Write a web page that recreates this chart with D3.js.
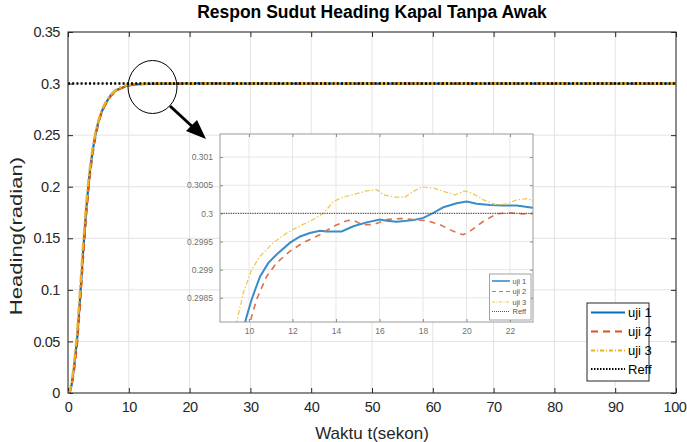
<!DOCTYPE html>
<html><head><meta charset="utf-8">
<script src="https://cdn.jsdelivr.net/npm/d3@7"></script>
<style>body{margin:0;background:#fff}svg{display:block;font-family:"Liberation Sans",Arial,sans-serif}</style>
</head><body><svg id="c" width="687" height="442"></svg>
<script>
// ---------- DATA ----------
const xTicks = [0,10,20,30,40,50,60,70,80,90,100];
const yTicks = [0,0.05,0.1,0.15,0.2,0.25,0.3,0.35];
const yTickLabels = ["0","0.05","0.1","0.15","0.2","0.25","0.3","0.35"];
const insetXTicks = [10,12,14,16,18,20,22];
const insetYTicks = [0.2985,0.299,0.2995,0.3,0.3005,0.301];
const insetYTickLabels = ["0.2985","0.299","0.2995","0.3","0.3005","0.301"];
const seriesNames = ["uji 1","uji 2","uji 3","Reff"];
const reffValue = 0.3;

const uji1T = [0,0.3,0.6,1.0,1.5,2.0,2.5,3.0,3.5,4.0,4.5,5.0,5.5,6.0,7.0,8.0,9.0,9.5,
  9.85,10.12,10.51,10.89,11.27,11.89,12.35,12.8,13.26,13.57,14.26,14.8,15.41,16.02,16.33,16.79,17.56,18.02,18.48,18.94,19.55,20.01,20.47,21.08,21.69,22.31,23.04,
  25,30,40,60,80,100];
const uji1V = [0,0.001,0.008,0.025,0.052,0.093,0.138,0.178,0.210,0.233,0.250,0.263,0.272,0.279,0.2885,0.2938,0.2962,0.2974,
  0.29811,0.29847,0.29888,0.29912,0.29927,0.29948,0.29959,0.29965,0.29969,0.29968,0.29968,0.29977,0.29984,0.29989,0.29987,0.29985,0.29988,0.29992,0.30001,0.30011,0.30018,0.30021,0.30017,0.30015,0.30014,0.30014,0.30010,
  0.30006,0.30003,0.30000,0.30000,0.30000,0.30000];

const uji2T = [0,0.3,0.6,1.0,1.5,2.0,2.5,3.0,3.5,4.0,4.5,5.0,5.5,6.0,7.0,8.0,9.0,9.7,
  10.08,10.35,10.81,11.27,11.89,12.5,13.26,13.88,14.49,14.8,15.18,15.72,16.33,16.94,17.56,18.17,18.78,19.4,19.83,20.16,20.78,21.39,22.0,22.62,23.04,
  25,30,40,60,80,100];
const uji2V = [0,0.0008,0.007,0.022,0.048,0.088,0.133,0.173,0.206,0.230,0.248,0.262,0.271,0.278,0.2878,0.2935,0.2962,0.2976,
  0.29811,0.29847,0.29888,0.29912,0.29933,0.29948,0.29962,0.29977,0.29987,0.29988,0.29980,0.29980,0.29989,0.29991,0.29989,0.29987,0.29980,0.29968,0.29962,0.29968,0.29986,0.29999,0.30001,0.29999,0.30000,
  0.30001,0.30000,0.30000,0.30000,0.30000,0.30000];

const uji3T = [0,0.3,0.6,1.0,1.5,2.0,2.5,3.0,3.5,4.0,4.5,5.0,5.5,6.0,7.0,8.0,8.8,9.2,
  9.46,9.74,10.12,10.51,11.12,11.73,12.35,12.96,13.42,13.88,14.34,14.95,15.41,15.87,16.18,16.64,17.17,17.56,17.94,18.48,18.94,19.47,19.93,20.24,20.78,21.39,21.85,22.31,22.77,23.04,
  25,30,40,60,80,100];
const uji3V = [0,0.0015,0.010,0.029,0.058,0.101,0.146,0.184,0.214,0.236,0.252,0.264,0.273,0.280,0.2892,0.2945,0.2968,0.29775,
  0.29811,0.29859,0.29900,0.29924,0.29948,0.29965,0.29978,0.29989,0.30000,0.30021,0.30029,0.30035,0.30040,0.30042,0.30033,0.30029,0.30029,0.30039,0.30047,0.30045,0.30039,0.30033,0.30040,0.30036,0.30024,0.30015,0.30017,0.30024,0.30026,0.30023,
  0.30020,0.30010,0.30005,0.30008,0.30004,0.30000];

// ---------- STYLE ----------
const colors = ["#0072BD","#D95319","#EDB120","#000000"];
const svg = d3.select("#c");
const axCol = "#262626";

// ---------- MAIN AXES ----------
const M = {l:68, r:676, t:32, b:393};
const x = d3.scaleLinear().domain([0,100]).range([M.l,M.r]);
const y = d3.scaleLinear().domain([0,0.35]).range([M.b,M.t]);

// grid
const g = svg.append("g");
g.selectAll("line.gx").data(xTicks).join("line")
  .attr("x1",d=>x(d)).attr("x2",d=>x(d)).attr("y1",M.t).attr("y2",M.b)
  .attr("stroke","#e3e3e3").attr("stroke-width",1);
g.selectAll("line.gy").data(yTicks).join("line")
  .attr("y1",d=>y(d)).attr("y2",d=>y(d)).attr("x1",M.l).attr("x2",M.r)
  .attr("stroke","#e3e3e3").attr("stroke-width",1);

function styleAxis(sel, fs){
  sel.select(".domain").remove();
  sel.selectAll(".tick line").attr("stroke",axCol);
  sel.selectAll(".tick text").attr("fill",axCol).style("font-size",fs+"px").style("letter-spacing","-0.4px");
}
svg.append("g").attr("transform",`translate(0,${M.b})`)
  .call(d3.axisBottom(x).tickValues(xTicks).tickSize(-5).tickPadding(9))
  .call(s=>styleAxis(s,14.5))
  .call(s=>s.selectAll(".tick text").filter(d=>d===100).attr("dx",-1.5));
svg.append("g").attr("transform",`translate(0,${M.t})`)
  .call(d3.axisTop(x).tickValues(xTicks).tickSize(-5).tickFormat(""))
  .call(s=>styleAxis(s,14.5));
svg.append("g").attr("transform",`translate(${M.l},0)`)
  .call(d3.axisLeft(y).tickValues(yTicks).tickSize(-5).tickPadding(8).tickFormat((d,i)=>yTickLabels[i]))
  .call(s=>styleAxis(s,14.5));
svg.append("g").attr("transform",`translate(${M.r},0)`)
  .call(d3.axisRight(y).tickValues(yTicks).tickSize(-5).tickFormat(""))
  .call(s=>styleAxis(s,14.5));

svg.append("clipPath").attr("id","cm").append("rect")
  .attr("x",M.l).attr("y",M.t-3).attr("width",M.r-M.l).attr("height",M.b-M.t+6);

const series = [
  {t:uji1T, v:uji1V, c:colors[0], w:2.2, dash:null},
  {t:uji2T, v:uji2V, c:colors[1], w:2.2, dash:"7,5"},
  {t:uji3T, v:uji3V, c:colors[2], w:2.4, dash:"8,3,2,3"}
];
const line = (xs,ys)=>d3.line().x(d=>xs(d[0])).y(d=>ys(d[1]));
const mainLines = svg.append("g").attr("clip-path","url(#cm)");
series.forEach(s=>{
  mainLines.append("path").datum(s.t.map((t,i)=>[t,s.v[i]]))
    .attr("d",line(x,y)).attr("fill","none").attr("stroke",s.c)
    .attr("stroke-width",s.w).attr("stroke-dasharray",s.dash);
});
mainLines.append("path").datum([[0,reffValue],[100,reffValue]])
  .attr("d",line(x,y)).attr("fill","none").attr("stroke","#000")
  .attr("stroke-width",2.5).attr("stroke-dasharray","2,2.2");

// box
svg.append("rect").attr("x",M.l).attr("y",M.t).attr("width",M.r-M.l).attr("height",M.b-M.t)
  .attr("fill","none").attr("stroke",axCol).attr("stroke-width",1);

// labels
svg.append("text").attr("x",(M.l+M.r)/2).attr("y",18).attr("text-anchor","middle")
  .style("font-size","17.5px").style("font-weight","bold").attr("fill","#000")
  .text("Respon Sudut Heading Kapal Tanpa Awak");
svg.append("text").attr("x",(M.l+M.r)/2).attr("y",439).attr("text-anchor","middle")
  .style("font-size","17px").attr("fill",axCol).text("Waktu t(sekon)");
svg.append("text").attr("transform","translate(22,236) rotate(-90) scale(1.3,1)").attr("text-anchor","middle")
  .style("font-size","17px").attr("fill",axCol).text("Heading(radian)");

// main legend
const L = {x:587, y:303, w:62, h:78};
const lg = svg.append("g");
lg.append("rect").attr("x",L.x).attr("y",L.y).attr("width",L.w).attr("height",L.h)
  .attr("fill","#fff").attr("stroke",axCol).attr("stroke-width",1);
const legY = [312.5,331.5,350.5,369];
const legDash = [null,"7,5","4,2,1,2","1.5,1.5"];
seriesNames.forEach((n,i)=>{
  lg.append("line").attr("x1",591).attr("x2",625).attr("y1",legY[i]).attr("y2",legY[i])
    .attr("stroke",colors[i]).attr("stroke-width",2).attr("stroke-dasharray",legDash[i]);
  lg.append("text").attr("x",628).attr("y",legY[i]+4.5).style("font-size","13px").attr("fill","#000").text(n);
});

// zoom circle and arrow
svg.append("ellipse").attr("cx",152.5).attr("cy",87).attr("rx",24.5).attr("ry",26.5)
  .attr("fill","none").attr("stroke","#000").attr("stroke-width",1);
svg.append("line").attr("x1",170).attr("y1",106).attr("x2",196).attr("y2",130)
  .attr("stroke","#000").attr("stroke-width",3);
svg.append("path").attr("d","M206,139 L186,131 L197,120 Z").attr("fill","#000");

// ---------- INSET ----------
const I = {l:220, r:533, t:134, b:322};
const xi = d3.scaleLinear().domain([8.667,23.06]).range([I.l,I.r]);
const yi = d3.scaleLinear().domain([0.29807,0.30141]).range([I.b,I.t]);
const ig = svg.append("g");
ig.append("rect").attr("x",I.l).attr("y",I.t).attr("width",I.r-I.l).attr("height",I.b-I.t).attr("fill","#fff");
ig.selectAll("line.gx").data(insetXTicks).join("line")
  .attr("x1",d=>xi(d)).attr("x2",d=>xi(d)).attr("y1",I.t).attr("y2",I.b)
  .attr("stroke","#e6e6e6");
ig.selectAll("line.gy").data(insetYTicks).join("line")
  .attr("y1",d=>yi(d)).attr("y2",d=>yi(d)).attr("x1",I.l).attr("x2",I.r)
  .attr("stroke","#e6e6e6");
const icol = "#8a8a8a";
function styleI(sel){
  sel.select(".domain").remove();
  sel.selectAll(".tick line").attr("stroke",icol);
  sel.selectAll(".tick text").attr("fill","#707070").style("font-size","8.5px");
}
ig.append("g").attr("transform",`translate(0,${I.b})`)
  .call(d3.axisBottom(xi).tickValues(insetXTicks).tickSize(-3).tickPadding(6)).call(styleI);
ig.append("g").attr("transform",`translate(0,${I.t})`)
  .call(d3.axisTop(xi).tickValues(insetXTicks).tickSize(-3).tickFormat("")).call(styleI);
ig.append("g").attr("transform",`translate(${I.l},0)`)
  .call(d3.axisLeft(yi).tickValues(insetYTicks).tickSize(-3).tickPadding(7).tickFormat((d,i)=>insetYTickLabels[i])).call(styleI);
ig.append("g").attr("transform",`translate(${I.r},0)`)
  .call(d3.axisRight(yi).tickValues(insetYTicks).tickSize(-3).tickFormat("")).call(styleI);

svg.append("clipPath").attr("id","ci").append("rect")
  .attr("x",I.l).attr("y",I.t).attr("width",I.r-I.l).attr("height",I.b-I.t);
const il = ig.append("g").attr("clip-path","url(#ci)");
const iStyle = [
  {c:"#3a8cc8", w:2, dash:null},
  {c:"#d9734a", w:1.6, dash:"6,5"},
  {c:"#eec54a", w:1.2, dash:"5,2,1.5,2"}
];
series.forEach((s,k)=>{
  il.append("path").datum(s.t.map((t,i)=>[t,s.v[i]]))
    .attr("d",line(xi,yi)).attr("fill","none").attr("stroke",iStyle[k].c)
    .attr("stroke-width",iStyle[k].w).attr("stroke-dasharray",iStyle[k].dash);
});
il.append("path").datum([[0,reffValue],[100,reffValue]])
  .attr("d",line(xi,yi)).attr("fill","none").attr("stroke","#555")
  .attr("stroke-width",1.3).attr("stroke-dasharray","1.2,1.2");
ig.append("rect").attr("x",I.l).attr("y",I.t).attr("width",I.r-I.l).attr("height",I.b-I.t)
  .attr("fill","none").attr("stroke","#9a9a9a").attr("stroke-width",1);

// inset legend
const IL = {x:489.5, y:274, w:41.5, h:46};
ig.append("rect").attr("x",IL.x).attr("y",IL.y).attr("width",IL.w).attr("height",IL.h)
  .attr("fill","#fff").attr("stroke","#8a8a8a").attr("stroke-width",0.8);
const ilY = [281,291.5,302,311.5];
const ilDash = [null,"4,3","3,1.5,1,1.5","1,1"];
const ilCol = [iStyle[0].c,iStyle[1].c,iStyle[2].c,"#555"];
seriesNames.forEach((n,i)=>{
  ig.append("line").attr("x1",492).attr("x2",510).attr("y1",ilY[i]).attr("y2",ilY[i])
    .attr("stroke",ilCol[i]).attr("stroke-width",i===0?1.6:1.2).attr("stroke-dasharray",ilDash[i]);
  ig.append("text").attr("x",512.5).attr("y",ilY[i]+2.5).style("font-size","7.5px").attr("fill","#555")
    .text(n);
});
</script></body></html>
